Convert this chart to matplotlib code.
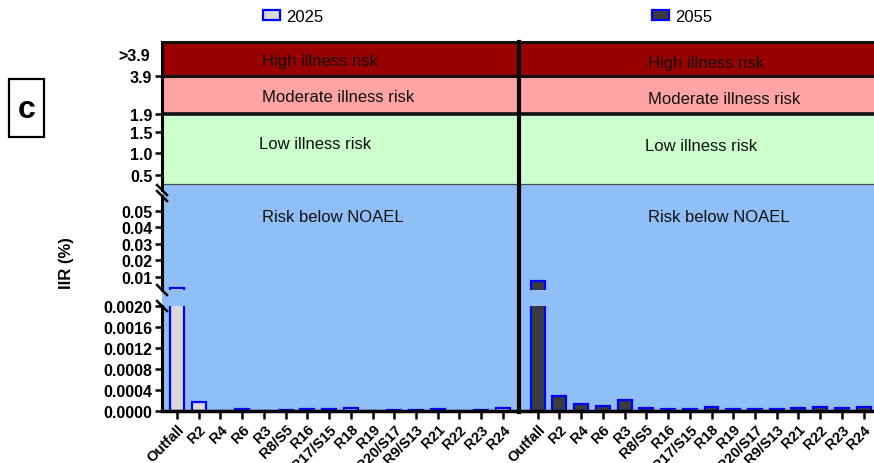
import numpy as np
import matplotlib
matplotlib.use("Agg")
import matplotlib.pyplot as plt
from matplotlib.patches import Patch, Rectangle
from matplotlib.lines import Line2D
import matplotlib.ticker as mticker

plt.rcParams['font.family'] = ['Liberation Sans', 'DejaVu Sans']

# ---- data -------------------------------------------------------------
sites = ['Outfall', 'R2', 'R4', 'R6', 'R3', 'R8/S5', 'R16', 'R17/S15', 'R18',
         'R19', 'R20/S17', 'R9/S13', 'R21', 'R22', 'R23', 'R24']
iir_2025 = [0.0033, 0.00018, 0.0, 0.00004, 0.0, 0.000025, 0.00003, 0.00003,
            0.00006, 0.0, 0.000025, 0.000025, 0.000045, 0.0, 0.000025, 0.00006]
iir_2055 = [0.0076, 0.00029, 0.00013, 0.0001, 0.00021, 0.000055, 0.00004,
            0.00004, 0.00008, 0.00004, 0.00004, 0.00004, 0.00006, 0.00008,
            0.00006, 0.00008]
years = ['2025', '2055']

# risk thresholds (IIR, %)
noael_limit = 0.3
low_limit = 1.9
moderate_limit = 3.9
band_names = ['Risk below NOAEL', 'Low illness risk', 'Moderate illness risk',
              'High illness risk']

# axis segments
bottom_ticks = [0.0, 0.0004, 0.0008, 0.0012, 0.0016, 0.0020]
middle_ticks = [0.01, 0.02, 0.03, 0.04, 0.05]
upper_ticks = [0.5, 1.0, 1.5, 1.9, 3.9]

# ---- style ------------------------------------------------------------
C_BLUE = '#90bff8'
C_GREEN = '#ccffcc'
C_PINK = '#ffa3a3'
C_RED = '#990000'
C_EDGE = '#0000ff'
FILLS = ['#d9d9d9', '#3c3c3c']

W, H = 874, 464
fig = plt.figure(figsize=(W / 100, H / 100), dpi=100)


def rect(x0, x1, y0, y1):
    return [x0 / W, 1 - y1 / H, (x1 - x0) / W, (y1 - y0) / H]


def fpt(x, y):
    return x / W, 1 - y / H


# upper segment: linear up to 1.9, compressed above
up_vals = [0.15, 1.9, 3.9, 5.7]
up_pix = [0.0, 75.25, 113.25, 147.45]


def up_fwd(v):
    v = np.asarray(v, float)
    out = np.interp(v, up_vals, up_pix)
    out = np.where(v < up_vals[0], (v - up_vals[0]) * 43.0, out)
    out = np.where(v > up_vals[-1], up_pix[-1] + (v - up_vals[-1]) * 19.0, out)
    return out


def up_inv(p):
    p = np.asarray(p, float)
    out = np.interp(p, up_pix, up_vals)
    out = np.where(p < 0, up_vals[0] + p / 43.0, out)
    out = np.where(p > up_pix[-1], up_vals[-1] + (p - up_pix[-1]) / 19.0, out)
    return out


panels = [
    dict(x0=162, x1=519, xlim=(-0.69, 15.74), vals=iir_2025, fill=FILLS[0],
         text_x=[3.91, 3.77, 3.91, 3.91], text_y=[0.0464, 1.22, 2.84, 4.74]),
    dict(x0=519, x1=876, xlim=(-0.86, 15.57), vals=iir_2055, fill=FILLS[1],
         text_x=[5.08, 4.94, 5.08, 5.08], text_y=[0.0464, 1.17, 2.74, 4.63]),
]
rows = [(43, 191), (197, 291), (307, 412)]
LW_SPINE = 2.2
x = np.arange(len(sites))

for k, p in enumerate(panels):
    # continuous blue backdrop behind the broken segments
    bx, by = fpt(p['x0'], 412)
    fig.add_artist(Rectangle((bx, by), (p['x1'] - p['x0']) / W, (412 - 43) / H,
                             transform=fig.transFigure, facecolor=C_BLUE,
                             edgecolor='none', zorder=-1))
    axes = []
    for r, (y0, y1) in enumerate(rows):
        ax = fig.add_axes(rect(p['x0'], p['x1'], y0, y1))
        ax.patch.set_alpha(0)
        ax.set_xlim(*p['xlim'])
        for s in ['right', 'top', 'bottom', 'left']:
            ax.spines[s].set_visible(False)
        axes.append(ax)
    ax_up, ax_mid, ax_bot = axes

    ax_up.set_yscale('function', functions=(up_fwd, up_inv))
    ax_up.set_ylim(0.15, 5.7)
    ax_mid.set_ylim(0.002, 0.059)
    ax_bot.set_ylim(0.0, 0.002)

    # risk bands
    ax_up.axhspan(noael_limit, low_limit, color=C_GREEN, lw=0, zorder=0)
    ax_up.axhspan(low_limit, moderate_limit, color=C_PINK, lw=0, zorder=0)
    ax_up.axhspan(moderate_limit, 5.7, color=C_RED, lw=0, zorder=0)
    ax_up.axhline(noael_limit, color='#4d4d4d', lw=0.9, zorder=1)
    ax_up.axhline(low_limit, color='#111111', lw=2.6, zorder=1)
    ax_up.axhline(moderate_limit, color='#111111', lw=2.2, zorder=1)
    ax_up.spines['top'].set_visible(True)
    ax_up.spines['top'].set_linewidth(LW_SPINE)
    ax_up.spines['top'].set_color('#111111')

    # bars, drawn in each segment and clipped by it
    for ax in (ax_mid, ax_bot):
        ax.bar(x, p['vals'], width=0.64, color=p['fill'], edgecolor=C_EDGE,
               linewidth=1.6, zorder=2)

    # band labels
    targets = [ax_mid, ax_up, ax_up, ax_up]
    for name, tx, ty, tax in zip(band_names, p['text_x'], p['text_y'], targets):
        tax.text(tx, ty, name, ha='left', va='center', fontsize=12,
                 color='#111111', zorder=3)

    # x axis
    for ax in (ax_up, ax_mid):
        ax.set_xticks([])
    ax_bot.spines['bottom'].set_visible(True)
    ax_bot.spines['bottom'].set_linewidth(LW_SPINE + 0.3)
    ax_bot.set_xticks(x)
    ax_bot.set_xticklabels(sites, rotation=45, ha='right', va='top',
                           rotation_mode='anchor', fontsize=10.5,
                           fontweight='bold')
    ax_bot.tick_params(axis='x', direction='out', length=5.8, width=1.8,
                       pad=2)

    # y axes
    if k == 0:
        for ax in axes:
            ax.spines['left'].set_visible(True)
            ax.spines['left'].set_linewidth(LW_SPINE)
            ax.tick_params(axis='y', direction='out', length=5, width=1.8,
                           pad=2, labelsize=11.5)
            ax.yaxis.set_minor_locator(mticker.NullLocator())
        ax_bot.set_yticks(bottom_ticks)
        ax_bot.set_yticklabels([f'{v:.4f}' for v in bottom_ticks],
                               fontweight='bold')
        ax_mid.set_yticks(middle_ticks)
        ax_mid.set_yticklabels([f'{v:.2f}' for v in middle_ticks],
                               fontweight='bold')
        ax_up.set_yticks(upper_ticks)
        ax_up.set_yticklabels([f'{v:.1f}' for v in upper_ticks],
                              fontweight='bold')
        ax_up.text(-0.035, 5.0, '>3.9', transform=ax_up.get_yaxis_transform(),
                   ha='right', va='center', fontsize=11.5, fontweight='bold')
    else:
        for ax in axes:
            ax.set_yticks([])

    # legend for the panel's year
    lx, ly = fpt(p['x0'] + (101 if k == 0 else 133), 17)
    fig.legend(handles=[Patch(facecolor=p['fill'], edgecolor=C_EDGE,
                              linewidth=1.6)],
               labels=[years[k]], loc='center left', bbox_to_anchor=(lx, ly),
               frameon=False, fontsize=12, handlelength=1.0,
               handleheight=0.55, handletextpad=0.4, borderpad=0,
               borderaxespad=0)

# break marks on the left axis
for yb in [191, 197, 291, 307]:
    xa, ya = fpt(157, yb - 5)
    xb, yb2 = fpt(167, yb + 5)
    fig.add_artist(Line2D([xa, xb], [ya, yb2], color='black', lw=1.8,
                          transform=fig.transFigure, zorder=6))

# thick divider between the two periods
dx, dy0 = fpt(519, 43)
_, dy1 = fpt(519, 413)
fig.add_artist(Line2D([dx, dx], [dy0, dy1], color='black', lw=3.0,
                      transform=fig.transFigure, zorder=6))

# y label and panel letter
fig.text(*fpt(66, 263), 'IIR (%)', rotation=90, ha='center', va='center',
         fontsize=12, fontweight='bold')
cx, cy = fpt(9, 138)
fig.add_artist(Rectangle((cx, cy), 35 / W, 58 / H, transform=fig.transFigure,
                         facecolor='white', edgecolor='black', lw=1.6))
fig.text(*fpt(26.5, 110), 'c', ha='center', va='center', fontsize=23,
         fontweight='bold')

fig.savefig('out.png', dpi=100)
